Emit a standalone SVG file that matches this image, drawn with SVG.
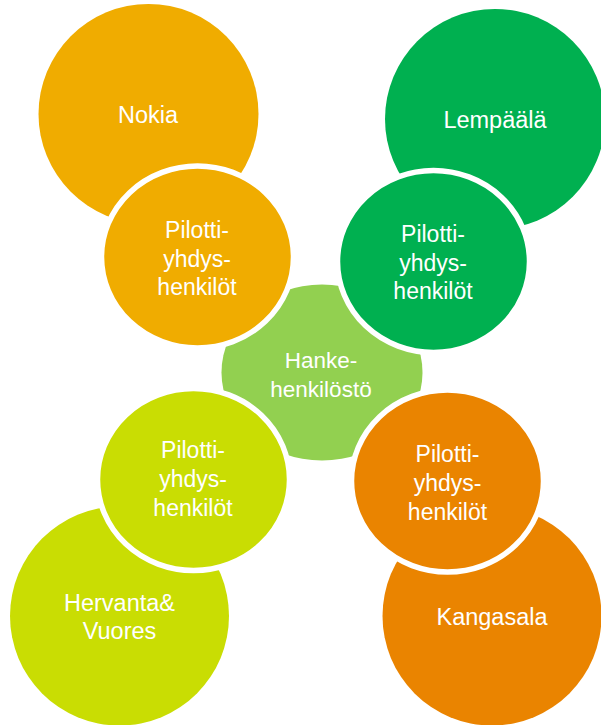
<svg xmlns="http://www.w3.org/2000/svg" width="601" height="725" viewBox="0 0 601 725">
<style>
  .lbl { font-family: "Liberation Sans", Arial, sans-serif; fill: #ffffff; text-anchor: middle; }
  .big { font-size: 23.5px; }
  .mid { font-size: 23px; }
  .ctr { font-size: 22.5px; }
  .ring { stroke: #ffffff; stroke-width: 5.5; }
</style>
<rect width="601" height="725" fill="#ffffff"/>
<g id="nokia">
  <circle cx="148.5" cy="114" r="110" fill="#F0AC00"/>
  <text class="lbl big" x="148" y="123">Nokia</text>
</g>
<g id="lempaala">
  <circle cx="495" cy="119" r="110" fill="#00B050"/>
  <text class="lbl big" x="495" y="128">Lempäälä</text>
</g>
<g id="hervanta">
  <circle cx="119.5" cy="616" r="109.5" fill="#C9DD03"/>
  <text class="lbl big" x="119.5" y="611">Hervanta&amp;</text>
  <text class="lbl big" x="119.5" y="639">Vuores</text>
</g>
<g id="kangasala">
  <circle cx="492" cy="616" r="109.5" fill="#EA8400"/>
  <text class="lbl big" x="492" y="625">Kangasala</text>
</g>
<g id="hanke">
  <ellipse cx="322" cy="372.5" rx="100.5" ry="88" fill="#92D050"/>
  <text class="lbl ctr" x="321" y="368">Hanke-</text>
  <text class="lbl ctr" x="321" y="397">henkilöstö</text>
</g>
<g id="pilotti-nokia">
  <ellipse class="ring" cx="197.5" cy="257" rx="96" ry="91" fill="#F0AC00"/>
  <text class="lbl mid" x="197" y="238">Pilotti-</text>
  <text class="lbl mid" x="197" y="266.5">yhdys-</text>
  <text class="lbl mid" x="197" y="295">henkilöt</text>
</g>
<g id="pilotti-lempaala">
  <ellipse class="ring" cx="433.5" cy="261.5" rx="96" ry="91" fill="#00B050"/>
  <text class="lbl mid" x="433" y="242">Pilotti-</text>
  <text class="lbl mid" x="433" y="270.5">yhdys-</text>
  <text class="lbl mid" x="433" y="299">henkilöt</text>
</g>
<g id="pilotti-hervanta">
  <ellipse class="ring" cx="193.5" cy="479.5" rx="96" ry="91" fill="#C9DD03"/>
  <text class="lbl mid" x="193" y="458">Pilotti-</text>
  <text class="lbl mid" x="193" y="487">yhdys-</text>
  <text class="lbl mid" x="193" y="516">henkilöt</text>
</g>
<g id="pilotti-kangasala">
  <ellipse class="ring" cx="447.5" cy="481" rx="96" ry="91" fill="#EA8400"/>
  <text class="lbl mid" x="447.5" y="462">Pilotti-</text>
  <text class="lbl mid" x="447.5" y="491">yhdys-</text>
  <text class="lbl mid" x="447.5" y="520">henkilöt</text>
</g>
<g id="connectors"/>
</svg>
